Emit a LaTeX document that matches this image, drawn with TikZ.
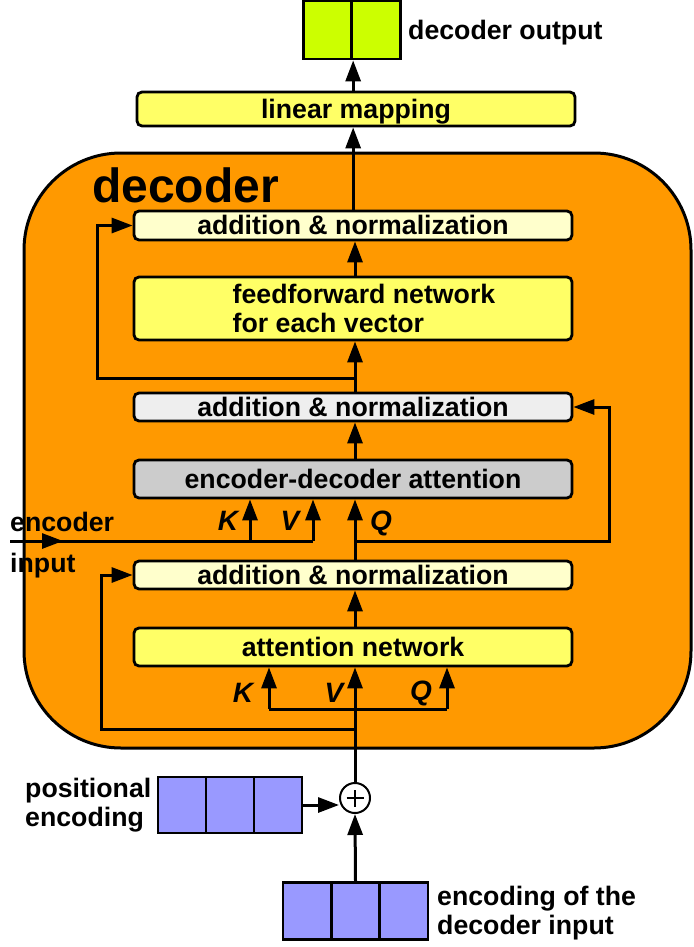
\documentclass[tikz,border=0pt]{standalone}
\usepackage{fontspec}
\setmainfont{Liberation Sans}
\usetikzlibrary{arrows.meta,positioning,calc}

\definecolor{decorange}{HTML}{FF9900}
\definecolor{outgreen}{HTML}{CCFF00}
\definecolor{boxyellow}{HTML}{FFFF66}
\definecolor{paleyellow}{HTML}{FFFFCC}
\definecolor{palegray}{HTML}{EEEEEE}
\definecolor{midgray}{HTML}{CCCCCC}
\definecolor{vecblue}{HTML}{9999FF}

\begin{document}
\begin{tikzpicture}[x=1pt,y=-1pt,
  blk/.style={draw,line width=2.8pt,rounded corners=5pt,minimum width=438pt,
    minimum height=29pt,inner sep=0pt,font=\bfseries\fontsize{26.7}{29}\selectfont},
  box/.style={blk,text height=21pt,text depth=3pt},
  cell/.style={draw,line width=2.8pt,fill=vecblue,minimum width=48pt,minimum height=56pt,inner sep=0pt},
  lbl/.style={font=\bfseries\fontsize{26.7}{29}\selectfont,inner sep=0pt},
  kvq/.style={font=\bfseries\itshape\fontsize{28}{30}\selectfont,inner sep=0pt},
  ln/.style={line width=3pt},
  arr/.style={line width=3pt,-{Triangle[length=21pt,width=15pt]}}]
  \useasboundingbox (0,0) rectangle (693,947);

  % decoder block
  \node[draw,line width=3pt,fill=decorange,rounded corners=97pt,minimum width=667pt,
    minimum height=595pt] (dec) at (357.5,450.5) {};
  \node[font=\bfseries\fontsize{48}{50}\selectfont,inner sep=0pt,anchor=base west]
    (dectitle) at (92,202) {decoder};

  \node[box,fill=boxyellow,minimum height=34pt] (lin) at (356,109) {linear mapping};
  \node[box,fill=paleyellow] (an3) at (353,225.5) {addition \& normalization};
  \node[blk,fill=boxyellow,minimum height=63pt,align=left] (ff) at (353,308.5)
    {\hspace*{22pt}feedforward network\\\hspace*{22pt}for each vector};
  \node[box,fill=palegray,minimum height=28pt] (an1) at (353,407) {addition \& normalization};
  \node[box,fill=midgray,minimum height=38pt] (eda) at (353,479) {encoder-decoder attention};
  \node[box,fill=paleyellow,minimum height=28pt] (an2) at (353,575) {addition \& normalization};
  \node[box,fill=boxyellow,minimum height=38pt] (att) at (353,647) {attention network};

  % output vector
  \node[cell,fill=outgreen,minimum width=48.5pt,minimum height=58pt] (o1) at (327.5,30) {};
  \node[cell,fill=outgreen,minimum width=48.5pt,minimum height=58pt] (o2) at (376,30) {};
  \node[lbl,anchor=base west] (outlbl) at (408,40) {decoder output};

  % positional encoding and decoder input
  \node[cell] (p1) at (182,805) {};
  \node[cell] (p2) at (230,805) {};
  \node[cell] (p3) at (278,805) {};
  \node[lbl,align=left,anchor=west] (poslbl) at (25,805) {positional\\encoding};
  \node[cell,minimum width=48.3pt,minimum height=57pt] (d1) at (307.2,911) {};
  \node[cell,minimum width=48.3pt,minimum height=57pt] (d2) at (355.5,911) {};
  \node[cell,minimum width=48.3pt,minimum height=57pt] (d3) at (403.8,911) {};
  \node[lbl,align=left,anchor=west] (inlbl) at (437,913) {encoding of the\\decoder input};

  \node[circle,draw,line width=2pt,fill=white,minimum size=30pt,inner sep=0pt,
    path picture={\draw[line width=2pt]
      ([xshift=-8.5pt]path picture bounding box.center) -- ([xshift=8.5pt]path picture bounding box.center)
      ([yshift=-8.5pt]path picture bounding box.center) -- ([yshift=8.5pt]path picture bounding box.center);}]
    (plus) at (355,798) {};

  \draw[arr] (d2.north) -- (plus.south);
  \draw[arr] (p3.east) -- (p3.east -| plus.west);

  % attention network inputs
  \coordinate (kbot) at (269,709);
  \coordinate (qbot) at (447,709);
  \draw[arr] (plus.north) -- (att.south -| plus);
  \draw[ln] (kbot) -- (qbot);
  \draw[arr] (kbot) -- (kbot |- att.south);
  \draw[arr] (qbot) -- (qbot |- att.south);
  \node[kvq,anchor=base] (k1) at (243,702) {K};
  \node[kvq,anchor=base] (v1) at (334,702) {V};
  \node[kvq,anchor=base] (q1) at (421,700) {Q};

  % residual paths
  \coordinate (res1) at (101,729);
  \coordinate (res2) at (609,541);
  \coordinate (res3) at (97,378);
  \draw[arr] (res1 -| plus) -- (res1) |- (an2.west);
  \draw[arr] (res2 -| plus) -- (res2) |- (an1.east);
  \draw[arr] (res3 -| plus) -- (res3) |- (an3.west);

  % main path
  \draw[arr] (att.north -| plus) -- (an2.south -| plus);
  \draw[arr] (an2.north -| plus) -- (eda.south -| plus);
  \draw[arr] (eda.north -| plus) -- (an1.south -| plus);
  \draw[arr] (an1.north -| plus) -- (ff.south -| plus);
  \draw[arr] (ff.north -| plus) -- (an3.south -| plus);
  \draw[arr] (an3.north -| o1.south east) -- (lin.south -| o1.south east);
  \draw[arr] (lin.north -| o1.south east) -- (o1.south east);

  % encoder input
  \coordinate (encin) at (10,541);
  \coordinate (ktop) at (250,541);
  \coordinate (vtop) at (313,541);
  \draw[ln] (encin) -- (vtop);
  \draw[arr] (encin) -- ++(53,0);
  \draw[arr] (ktop) -- (ktop |- eda.south);
  \draw[arr] (vtop) -- (vtop |- eda.south);
  \node[lbl,anchor=base west] (enclbl) at (10,531) {encoder};
  \node[lbl,anchor=base west] (inplbl) at (10,572) {input};
  \node[kvq,anchor=base] (k2) at (228,530) {K};
  \node[kvq,anchor=base] (v2) at (290,530) {V};
  \node[kvq,anchor=base] (q2) at (381,530) {Q};
\end{tikzpicture}
\end{document}
